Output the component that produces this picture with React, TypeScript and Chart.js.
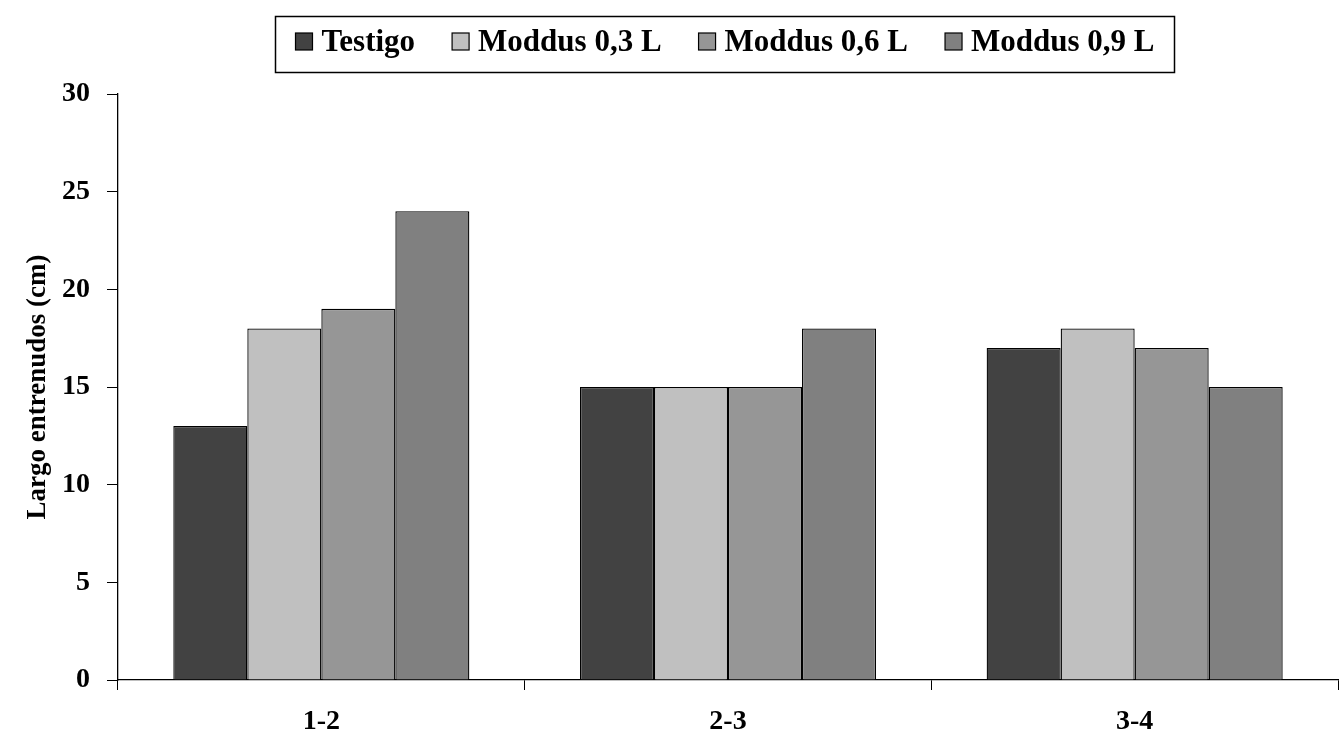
import React, { useEffect, useRef } from "react";
import { Chart, registerables } from "chart.js";

Chart.register(...registerables);

const FONT = '"Liberation Serif", "Times New Roman", serif';

const categories = ["1-2", "2-3", "3-4"];
const seriesNames = ["Testigo", "Moddus 0,3 L", "Moddus 0,6 L", "Moddus 0,9 L"];
const testigo = [13, 15, 17];
const moddus03 = [18, 15, 18];
const moddus06 = [19, 15, 17];
const moddus09 = [24, 18, 15];
const seriesColors = ["#424242", "#c0c0c0", "#969696", "#808080"];
const yTicks = [0, 5, 10, 15, 20, 25, 30];
const yTitle = "Largo entrenudos (cm)";

const legendBox = {
  id: "legendBox",
  afterDraw(chart: any) {
    const ctx = chart.ctx as CanvasRenderingContext2D;
    ctx.save();
    ctx.font = `bold 31px ${FONT}`;
    const sq = 17;
    const gapText = 9;
    const gapItem = 37;
    const names: string[] = chart.data.datasets.map((d: any) => d.label);
    const widths = names.map((n) => ctx.measureText(n).width);
    const total =
      widths.reduce((a, w) => a + sq + gapText + w, 0) + gapItem * (names.length - 1);
    const cx = 725;
    let x = cx - total / 2;
    ctx.lineWidth = 1.5;
    ctx.strokeStyle = "#000";
    ctx.strokeRect(Math.round(x - 20) + 0.5, 16.5, Math.round(total + 40), 56);
    const baseline = 51;
    names.forEach((n, i) => {
      ctx.fillStyle = chart.data.datasets[i].backgroundColor;
      ctx.fillRect(x, baseline - sq - 1, sq, sq);
      ctx.lineWidth = 1.2;
      ctx.strokeRect(x, baseline - sq - 1, sq, sq);
      ctx.fillStyle = "#000";
      ctx.textBaseline = "alphabetic";
      ctx.textAlign = "left";
      ctx.fillText(n, x + sq + gapText, baseline);
      x += sq + gapText + widths[i] + gapItem;
    });
    ctx.restore();
  },
};

export default function App() {
  const ref = useRef<HTMLCanvasElement>(null);
  useEffect(() => {
    if (!ref.current) return;
    const values = [testigo, moddus03, moddus06, moddus09];
    const chart = new Chart(ref.current, {
      type: "bar",
      data: {
        labels: categories,
        datasets: seriesNames.map((name, i) => ({
          label: name,
          data: values[i],
          backgroundColor: seriesColors[i],
          borderColor: "#000",
          borderWidth: 1.3,
          categoryPercentage: 0.728,
          barPercentage: 1.0,
        })),
      },
      options: {
        responsive: false,
        animation: false,
        layout: { padding: { top: 94, right: 6, left: 0, bottom: 0 } },
        plugins: {
          legend: { display: false },
          tooltip: { enabled: false },
        },
        scales: {
          x: {
            grid: {
              display: true,
              drawOnChartArea: false,
              drawTicks: true,
              tickLength: 10,
              color: "#000",
              offset: true,
            },
            border: { display: true, color: "#000", width: 1.3 },
            ticks: {
              color: "#000",
              font: { family: FONT, size: 28, weight: "bold" },
              padding: 15,
            },
            afterFit: (s: any) => {
              s.height = 62;
            },
          },
          y: {
            min: 0,
            max: 30,
            afterBuildTicks: (s: any) => {
              s.ticks = yTicks.map((v) => ({ value: v }));
            },
            grid: {
              display: true,
              drawOnChartArea: false,
              drawTicks: true,
              tickLength: 11,
              color: "#000",
            },
            border: { display: true, color: "#000", width: 1.3 },
            ticks: {
              color: "#000",
              font: { family: FONT, size: 28, weight: "bold" },
              padding: 17,
            },
            title: {
              display: true,
              text: yTitle,
              color: "#000",
              font: { family: FONT, size: 27, weight: "bold" },
              padding: { top: 22, bottom: 0 },
            },
            afterFit: (s: any) => {
              s.width = 118;
            },
          },
        },
      },
      plugins: [legendBox],
    });
    return () => chart.destroy();
  }, []);
  return (
    <div style={{ position: "fixed", left: 0, top: 0, width: 1344, height: 742, background: "#fff" }}>
      <canvas ref={ref} width={1344} height={742} style={{ display: "block" }} />
    </div>
  );
}
